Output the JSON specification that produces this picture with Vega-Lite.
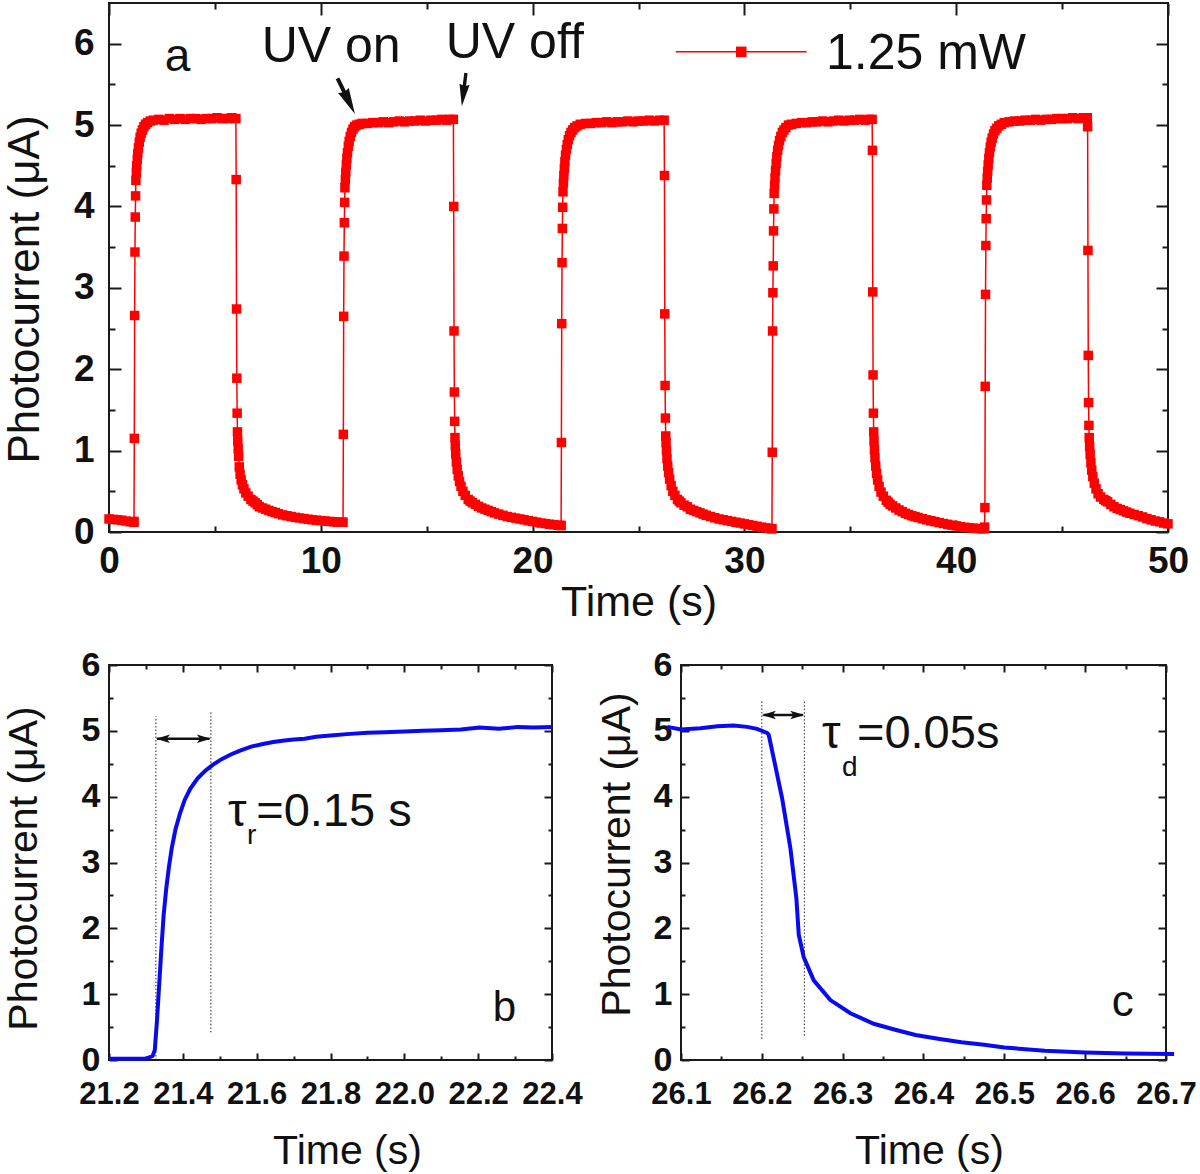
{
  "$schema": "https://vega.github.io/schema/vega-lite/v6.json",
  "background": "white",
  "padding": {"left": 2, "top": 1, "right": 0, "bottom": 0},
  "config": {
    "view": {"stroke": "#1a1a1a", "strokeWidth": 2},
    "font": "Liberation Sans",
    "axis": {"domain": false, "grid": false, "tickColor": "#1a1a1a", "tickWidth": 2, "labelColor": "#111", "titleColor": "#111", "labelFont": "Liberation Sans", "titleFont": "Liberation Sans", "labelFontWeight": "bold", "titleFontWeight": "normal", "labelFlush": false, "labelOverlap": false}
  },
  "datasets": {
    "a": [
      {"t":0,"i":0.16},{"t":0.2,"i":0.155},{"t":0.4,"i":0.15},{"t":0.6,"i":0.145},{"t":0.8,"i":0.135},{"t":1.0,"i":0.125},{"t":1.17,"i":0.12},
      {"t":1.18,"i":0.13},{"t":1.195,"i":1.15},{"t":1.21,"i":2.66},{"t":1.225,"i":3.44},{"t":1.24,"i":3.87},{"t":1.255,"i":4.13},{"t":1.27,"i":4.32},
      {"t":1.29,"i":4.42},{"t":1.31,"i":4.5},{"t":1.335,"i":4.58},{"t":1.36,"i":4.65},{"t":1.39,"i":4.72},{"t":1.43,"i":4.79},{"t":1.47,"i":4.85},{"t":1.52,"i":4.9},{"t":1.58,"i":4.94},{"t":1.65,"i":4.98},{"t":1.73,"i":5.01},{"t":1.82,"i":5.03},{"t":1.95,"i":5.05},{"t":2.1,"i":5.06},
      {"t":2.35,"i":5.07},{"t":2.6,"i":5.06},{"t":2.85,"i":5.08},{"t":3.1,"i":5.07},{"t":3.35,"i":5.08},{"t":3.6,"i":5.07},{"t":3.85,"i":5.08},{"t":4.1,"i":5.08},{"t":4.35,"i":5.07},{"t":4.6,"i":5.08},{"t":4.85,"i":5.08},{"t":5.1,"i":5.09},{"t":5.35,"i":5.08},{"t":5.6,"i":5.08},{"t":5.8,"i":5.09},{"t":5.99,"i":5.08},
      {"t":6.005,"i":4.33},{"t":6.02,"i":2.74},{"t":6.035,"i":1.89},{"t":6.05,"i":1.46},{"t":6.065,"i":1.23},
      {"t":6.08,"i":1.12},{"t":6.1,"i":1.02},{"t":6.12,"i":0.93},{"t":6.15,"i":0.8},{"t":6.19,"i":0.71},{"t":6.24,"i":0.64},{"t":6.3,"i":0.58},{"t":6.37,"i":0.53},{"t":6.46,"i":0.48},{"t":6.57,"i":0.44},{"t":6.7,"i":0.4},{"t":6.8,"i":0.38},{"t":6.9,"i":0.36},{"t":7.0,"i":0.335},{"t":7.1,"i":0.31},{"t":7.25,"i":0.295},{"t":7.4,"i":0.28},{"t":7.55,"i":0.265},{"t":7.7,"i":0.25},{"t":7.85,"i":0.24},{"t":8.0,"i":0.225},{"t":8.2,"i":0.21},{"t":8.4,"i":0.2},{"t":8.6,"i":0.19},{"t":8.8,"i":0.18},{"t":9.0,"i":0.172},{"t":9.2,"i":0.165},{"t":9.4,"i":0.157},{"t":9.6,"i":0.15},{"t":9.8,"i":0.145},{"t":10.0,"i":0.14},{"t":10.2,"i":0.135},{"t":10.4,"i":0.13},{"t":10.6,"i":0.125},{"t":10.8,"i":0.122},{"t":11.0,"i":0.12},
      {"t":11.05,"i":0.12},{"t":11.065,"i":1.2},{"t":11.08,"i":2.65},{"t":11.095,"i":3.39},{"t":11.11,"i":3.8},{"t":11.125,"i":4.05},{"t":11.14,"i":4.23},
      {"t":11.16,"i":4.33},{"t":11.18,"i":4.42},{"t":11.205,"i":4.51},{"t":11.23,"i":4.59},{"t":11.26,"i":4.66},{"t":11.3,"i":4.74},{"t":11.34,"i":4.8},{"t":11.39,"i":4.86},{"t":11.45,"i":4.91},{"t":11.52,"i":4.95},{"t":11.6,"i":4.98},{"t":11.7,"i":5.0},{"t":11.82,"i":5.01},{"t":11.95,"i":5.02},
      {"t":12.2,"i":5.02},{"t":12.45,"i":5.03},{"t":12.7,"i":5.03},{"t":12.95,"i":5.04},{"t":13.2,"i":5.03},{"t":13.45,"i":5.04},{"t":13.7,"i":5.05},{"t":13.95,"i":5.04},{"t":14.2,"i":5.05},{"t":14.45,"i":5.05},{"t":14.7,"i":5.06},{"t":14.95,"i":5.05},{"t":15.2,"i":5.06},{"t":15.45,"i":5.06},{"t":15.7,"i":5.07},{"t":15.95,"i":5.06},{"t":16.1,"i":5.07},{"t":16.26,"i":5.07},
      {"t":16.275,"i":4.0},{"t":16.29,"i":2.47},{"t":16.305,"i":1.72},{"t":16.32,"i":1.36},{"t":16.335,"i":1.16},
      {"t":16.35,"i":1.06},{"t":16.37,"i":0.96},{"t":16.4,"i":0.86},{"t":16.44,"i":0.77},{"t":16.49,"i":0.69},{"t":16.55,"i":0.62},{"t":16.62,"i":0.56},{"t":16.71,"i":0.5},{"t":16.82,"i":0.45},{"t":16.96,"i":0.4},{"t":17.05,"i":0.38},{"t":17.15,"i":0.36},{"t":17.3,"i":0.34},{"t":17.45,"i":0.315},{"t":17.6,"i":0.295},{"t":17.75,"i":0.28},{"t":17.9,"i":0.265},{"t":18.05,"i":0.25},{"t":18.2,"i":0.235},{"t":18.4,"i":0.22},{"t":18.6,"i":0.205},{"t":18.8,"i":0.19},{"t":19.0,"i":0.18},{"t":19.2,"i":0.17},{"t":19.4,"i":0.16},{"t":19.6,"i":0.15},{"t":19.8,"i":0.14},{"t":20.0,"i":0.13},{"t":20.2,"i":0.12},{"t":20.4,"i":0.11},{"t":20.6,"i":0.103},{"t":20.8,"i":0.096},{"t":21.0,"i":0.09},{"t":21.2,"i":0.083},{"t":21.33,"i":0.08},
      {"t":21.345,"i":0.08},{"t":21.36,"i":1.1},{"t":21.375,"i":2.56},{"t":21.39,"i":3.31},{"t":21.405,"i":3.73},{"t":21.42,"i":3.99},{"t":21.435,"i":4.18},
      {"t":21.455,"i":4.29},{"t":21.475,"i":4.38},{"t":21.5,"i":4.47},{"t":21.525,"i":4.55},{"t":21.555,"i":4.63},{"t":21.595,"i":4.7},{"t":21.635,"i":4.76},{"t":21.685,"i":4.82},{"t":21.745,"i":4.87},{"t":21.815,"i":4.91},{"t":21.895,"i":4.94},{"t":21.985,"i":4.97},{"t":22.1,"i":4.99},{"t":22.25,"i":5.01},
      {"t":22.5,"i":5.02},{"t":22.75,"i":5.02},{"t":23.0,"i":5.03},{"t":23.25,"i":5.03},{"t":23.5,"i":5.04},{"t":23.75,"i":5.03},{"t":24.0,"i":5.04},{"t":24.25,"i":5.04},{"t":24.5,"i":5.05},{"t":24.75,"i":5.04},{"t":25.0,"i":5.05},{"t":25.25,"i":5.05},{"t":25.5,"i":5.06},{"t":25.75,"i":5.05},{"t":26.0,"i":5.06},{"t":26.21,"i":5.06},
      {"t":26.225,"i":4.38},{"t":26.24,"i":2.68},{"t":26.255,"i":1.8},{"t":26.27,"i":1.4},{"t":26.285,"i":1.18},
      {"t":26.3,"i":1.1},{"t":26.32,"i":1.0},{"t":26.345,"i":0.9},{"t":26.38,"i":0.81},{"t":26.42,"i":0.73},{"t":26.47,"i":0.65},{"t":26.54,"i":0.57},{"t":26.62,"i":0.5},{"t":26.72,"i":0.45},{"t":26.84,"i":0.4},{"t":26.92,"i":0.38},{"t":27.0,"i":0.36},{"t":27.15,"i":0.33},{"t":27.3,"i":0.31},{"t":27.45,"i":0.28},{"t":27.6,"i":0.265},{"t":27.75,"i":0.25},{"t":27.9,"i":0.235},{"t":28.05,"i":0.22},{"t":28.2,"i":0.205},{"t":28.4,"i":0.19},{"t":28.6,"i":0.175},{"t":28.8,"i":0.16},{"t":29.0,"i":0.15},{"t":29.2,"i":0.14},{"t":29.4,"i":0.13},{"t":29.6,"i":0.12},{"t":29.8,"i":0.11},{"t":30.0,"i":0.1},{"t":30.2,"i":0.09},{"t":30.4,"i":0.08},{"t":30.6,"i":0.07},{"t":30.8,"i":0.06},{"t":31.0,"i":0.05},{"t":31.15,"i":0.045},{"t":31.28,"i":0.04},
      {"t":31.3,"i":0.04},{"t":31.315,"i":0.98},{"t":31.33,"i":2.47},{"t":31.345,"i":2.94},{"t":31.36,"i":3.27},{"t":31.375,"i":3.7},{"t":31.39,"i":3.97},{"t":31.405,"i":4.16},
      {"t":31.425,"i":4.26},{"t":31.445,"i":4.35},{"t":31.47,"i":4.44},{"t":31.5,"i":4.53},{"t":31.53,"i":4.61},{"t":31.57,"i":4.69},{"t":31.61,"i":4.75},{"t":31.66,"i":4.81},{"t":31.72,"i":4.86},{"t":31.79,"i":4.91},{"t":31.87,"i":4.94},{"t":31.96,"i":4.97},{"t":32.08,"i":5.0},{"t":32.22,"i":5.01},
      {"t":32.45,"i":5.02},{"t":32.7,"i":5.03},{"t":32.95,"i":5.03},{"t":33.2,"i":5.04},{"t":33.45,"i":5.04},{"t":33.7,"i":5.05},{"t":33.95,"i":5.04},{"t":34.2,"i":5.05},{"t":34.45,"i":5.06},{"t":34.7,"i":5.05},{"t":34.95,"i":5.06},{"t":35.2,"i":5.06},{"t":35.45,"i":5.07},{"t":35.7,"i":5.06},{"t":35.9,"i":5.07},{"t":36.03,"i":5.07},
      {"t":36.045,"i":4.69},{"t":36.06,"i":2.95},{"t":36.075,"i":1.93},{"t":36.09,"i":1.46},{"t":36.105,"i":1.23},
      {"t":36.12,"i":1.12},{"t":36.14,"i":1.01},{"t":36.165,"i":0.91},{"t":36.2,"i":0.81},{"t":36.24,"i":0.72},{"t":36.29,"i":0.64},{"t":36.36,"i":0.56},{"t":36.45,"i":0.49},{"t":36.56,"i":0.44},{"t":36.7,"i":0.39},{"t":36.79,"i":0.365},{"t":36.88,"i":0.34},{"t":37.0,"i":0.32},{"t":37.15,"i":0.295},{"t":37.3,"i":0.27},{"t":37.45,"i":0.25},{"t":37.6,"i":0.23},{"t":37.75,"i":0.215},{"t":37.9,"i":0.2},{"t":38.05,"i":0.19},{"t":38.2,"i":0.178},{"t":38.4,"i":0.163},{"t":38.6,"i":0.15},{"t":38.8,"i":0.138},{"t":39.0,"i":0.127},{"t":39.2,"i":0.115},{"t":39.4,"i":0.104},{"t":39.6,"i":0.094},{"t":39.8,"i":0.084},{"t":40.0,"i":0.075},{"t":40.2,"i":0.066},{"t":40.4,"i":0.058},{"t":40.6,"i":0.052},{"t":40.8,"i":0.047},{"t":41.0,"i":0.043},{"t":41.2,"i":0.04},{"t":41.32,"i":0.04},
      {"t":41.34,"i":0.06},{"t":41.355,"i":0.3},{"t":41.37,"i":1.79},{"t":41.385,"i":2.92},{"t":41.4,"i":3.52},{"t":41.415,"i":3.85},{"t":41.43,"i":4.08},{"t":41.445,"i":4.26},
      {"t":41.465,"i":4.35},{"t":41.485,"i":4.43},{"t":41.51,"i":4.51},{"t":41.54,"i":4.59},{"t":41.57,"i":4.66},{"t":41.61,"i":4.73},{"t":41.65,"i":4.79},{"t":41.7,"i":4.84},{"t":41.76,"i":4.89},{"t":41.83,"i":4.93},{"t":41.91,"i":4.96},{"t":42.01,"i":4.99},{"t":42.13,"i":5.01},{"t":42.27,"i":5.03},
      {"t":42.5,"i":5.04},{"t":42.75,"i":5.05},{"t":43.0,"i":5.05},{"t":43.25,"i":5.06},{"t":43.5,"i":5.06},{"t":43.75,"i":5.07},{"t":44.0,"i":5.06},{"t":44.25,"i":5.07},{"t":44.5,"i":5.07},{"t":44.75,"i":5.08},{"t":45.0,"i":5.08},{"t":45.25,"i":5.08},{"t":45.5,"i":5.09},{"t":45.75,"i":5.08},{"t":46.0,"i":5.09},{"t":46.19,"i":5.09},
      {"t":46.205,"i":4.98},{"t":46.22,"i":3.46},{"t":46.235,"i":2.17},{"t":46.25,"i":1.59},{"t":46.265,"i":1.31},
      {"t":46.28,"i":1.16},{"t":46.3,"i":1.05},{"t":46.325,"i":0.95},{"t":46.36,"i":0.85},{"t":46.4,"i":0.76},{"t":46.45,"i":0.68},{"t":46.52,"i":0.6},{"t":46.6,"i":0.53},{"t":46.7,"i":0.47},{"t":46.82,"i":0.43},{"t":46.97,"i":0.4},{"t":47.06,"i":0.385},{"t":47.15,"i":0.37},{"t":47.3,"i":0.34},{"t":47.45,"i":0.31},{"t":47.6,"i":0.29},{"t":47.75,"i":0.275},{"t":47.9,"i":0.26},{"t":48.05,"i":0.245},{"t":48.2,"i":0.23},{"t":48.4,"i":0.215},{"t":48.6,"i":0.2},{"t":48.8,"i":0.185},{"t":49.0,"i":0.165},{"t":49.2,"i":0.15},{"t":49.4,"i":0.135},{"t":49.6,"i":0.125},{"t":49.8,"i":0.11},{"t":50.0,"i":0.1}
    ],
    "b": [
      {"t":21.2,"i":0.02},{"t":21.25,"i":0.02},{"t":21.3,"i":0.02},{"t":21.318,"i":0.06},{"t":21.324,"i":0.15},{"t":21.33,"i":0.6},{"t":21.336,"i":1.15},{"t":21.342,"i":1.7},{"t":21.348,"i":2.2},{"t":21.355,"i":2.6},{"t":21.362,"i":2.92},{"t":21.37,"i":3.22},{"t":21.38,"i":3.5},{"t":21.392,"i":3.74},{"t":21.405,"i":3.95},{"t":21.42,"i":4.12},{"t":21.44,"i":4.28},{"t":21.46,"i":4.39},{"t":21.48,"i":4.48},{"t":21.505,"i":4.57},{"t":21.53,"i":4.64},{"t":21.555,"i":4.7},{"t":21.585,"i":4.76},{"t":21.617,"i":4.8},{"t":21.645,"i":4.83},{"t":21.67,"i":4.85},{"t":21.7,"i":4.87},{"t":21.73,"i":4.88},{"t":21.761,"i":4.91},{"t":21.8,"i":4.93},{"t":21.844,"i":4.95},{"t":21.9,"i":4.97},{"t":21.947,"i":4.98},{"t":22.0,"i":4.99},{"t":22.05,"i":5.0},{"t":22.1,"i":5.01},{"t":22.153,"i":5.02},{"t":22.204,"i":5.05},{"t":22.256,"i":5.03},{"t":22.307,"i":5.06},{"t":22.35,"i":5.05},{"t":22.4,"i":5.06}
    ],
    "c": [
      {"t":26.083,"i":5.06},{"t":26.1,"i":5.02},{"t":26.124,"i":5.04},{"t":26.145,"i":5.07},{"t":26.165,"i":5.08},{"t":26.182,"i":5.06},{"t":26.194,"i":5.03},{"t":26.2064,"i":4.97},{"t":26.2085,"i":4.94},{"t":26.217,"i":4.45},{"t":26.225,"i":3.98},{"t":26.2353,"i":3.22},{"t":26.2427,"i":2.46},{"t":26.2457,"i":1.9},{"t":26.2519,"i":1.56},{"t":26.2642,"i":1.21},{"t":26.2848,"i":0.91},{"t":26.3096,"i":0.71},{"t":26.3385,"i":0.55},{"t":26.365,"i":0.46},{"t":26.39,"i":0.38},{"t":26.42,"i":0.32},{"t":26.447,"i":0.27},{"t":26.475,"i":0.23},{"t":26.5,"i":0.19},{"t":26.55,"i":0.14},{"t":26.6,"i":0.115},{"t":26.65,"i":0.1},{"t":26.71,"i":0.09}
    ]
  },
  "spacing": 22,
  "vconcat": [
    {
      "width": 1059,
      "height": 529,
      "layer": [
        {
          "data": {"name": "a"},
          "mark": {"type": "line", "color": "#ff0000", "strokeWidth": 1.5},
          "encoding": {
            "x": {"field": "t", "type": "quantitative", "scale": {"domain": [0, 50], "nice": false, "zero": false},
              "axis": {"orient": "bottom", "values": [0,5,10,15,20,25,30,35,40,45,50], "tickSize": {"condition": {"test": "datum.value % 10 === 0", "value": -12}, "value": -6}, "labelExpr": "datum.value % 10 === 0 ? datum.label : ''", "labelFontSize": 37, "labelPadding": 23, "title": "Time (s)", "titleFontSize": 43, "titlePadding": -4}},
            "y": {"field": "i", "type": "quantitative", "scale": {"domain": [0, 6.5], "nice": false, "zero": false},
              "axis": {"orient": "left", "values": [0,0.5,1,1.5,2,2.5,3,3.5,4,4.5,5,5.5,6], "tickSize": {"condition": {"test": "datum.value % 1 === 0", "value": -12}, "value": -6}, "labelExpr": "datum.value % 1 === 0 ? format(datum.value, 'd') : ''", "labelFontSize": 37, "labelPadding": 27, "title": "Photocurrent (μA)", "titleFontSize": 44, "titlePadding": 26, "titleY": 286}}
          }
        },
        {
          "data": {"name": "a"},
          "mark": {"type": "point", "shape": "square", "filled": true, "color": "#ff0000", "size": 90, "opacity": 1},
          "encoding": {
            "x": {"field": "t", "type": "quantitative", "scale": {"domain": [0, 50], "nice": false, "zero": false},
              "axis": {"orient": "top", "values": [0,5,10,15,20,25,30,35,40,45,50], "tickSize": {"condition": {"test": "datum.value % 10 === 0", "value": -12}, "value": -6}, "labels": false, "title": null}},
            "y": {"field": "i", "type": "quantitative", "scale": {"domain": [0, 6.5], "nice": false, "zero": false},
              "axis": {"orient": "right", "values": [0,0.5,1,1.5,2,2.5,3,3.5,4,4.5,5,5.5,6], "tickSize": {"condition": {"test": "datum.value % 1 === 0", "value": -12}, "value": -6}, "labels": false, "title": null}}
          }
        },
        {
          "data": {"values": [{"t1": 26.76, "t2": 32.94, "i": 5.9}]},
          "mark": {"type": "rule", "color": "#ff0000", "strokeWidth": 1.5},
          "encoding": {
            "x": {"field": "t1", "type": "quantitative", "scale": {"domain": [0, 50], "nice": false, "zero": false}, "axis": null},
            "x2": {"field": "t2"},
            "y": {"field": "i", "type": "quantitative", "scale": {"domain": [0, 6.5], "nice": false, "zero": false}, "axis": null}
          }
        },
        {
          "data": {"values": [{"t": 29.85, "i": 5.9}]},
          "mark": {"type": "point", "shape": "square", "filled": true, "color": "#ff0000", "size": 110, "opacity": 1},
          "encoding": {
            "x": {"field": "t", "type": "quantitative", "scale": {"domain": [0, 50], "nice": false, "zero": false}, "axis": null},
            "y": {"field": "i", "type": "quantitative", "scale": {"domain": [0, 6.5], "nice": false, "zero": false}, "axis": null}
          }
        },
        {
          "data": {"values": [{"t": 7.21, "i": 5.77, "txt": "UV on"}, {"t": 15.9, "i": 5.83, "txt": "UV off"}, {"t": 33.85, "i": 5.69, "txt": "1.25 mW"}]},
          "mark": {"type": "text", "align": "left", "baseline": "alphabetic", "fontSize": 50, "font": "Liberation Sans", "color": "#111"},
          "encoding": {
            "x": {"field": "t", "type": "quantitative", "scale": {"domain": [0, 50], "nice": false, "zero": false}, "axis": null},
            "y": {"field": "i", "type": "quantitative", "scale": {"domain": [0, 6.5], "nice": false, "zero": false}, "axis": null},
            "text": {"field": "txt"}
          }
        },
        {
          "data": {"values": [{"t": 2.63, "i": 5.67, "txt": "a"}]},
          "mark": {"type": "text", "align": "left", "baseline": "alphabetic", "fontSize": 46, "font": "Liberation Sans", "color": "#111"},
          "encoding": {
            "x": {"field": "t", "type": "quantitative", "scale": {"domain": [0, 50], "nice": false, "zero": false}, "axis": null},
            "y": {"field": "i", "type": "quantitative", "scale": {"domain": [0, 6.5], "nice": false, "zero": false}, "axis": null},
            "text": {"field": "txt"}
          }
        },
        {
          "data": {"values": [{"t": 11.2, "i": 5.355}]},
          "mark": {"type": "point", "shape": "M-0.1,-1L0.1,-1L0.1,-0.25L0.3,-0.32L0,1L-0.3,-0.32L-0.1,-0.25Z", "filled": true, "color": "#111", "size": 1570, "angle": 334, "opacity": 1},
          "encoding": {
            "x": {"field": "t", "type": "quantitative", "scale": {"domain": [0, 50], "nice": false, "zero": false}, "axis": null},
            "y": {"field": "i", "type": "quantitative", "scale": {"domain": [0, 6.5], "nice": false, "zero": false}, "axis": null}
          }
        },
        {
          "data": {"values": [{"t": 16.755, "i": 5.435}]},
          "mark": {"type": "point", "shape": "M-0.1,-1L0.1,-1L0.1,-0.25L0.3,-0.32L0,1L-0.3,-0.32L-0.1,-0.25Z", "filled": true, "color": "#111", "size": 1130, "angle": 7, "opacity": 1},
          "encoding": {
            "x": {"field": "t", "type": "quantitative", "scale": {"domain": [0, 50], "nice": false, "zero": false}, "axis": null},
            "y": {"field": "i", "type": "quantitative", "scale": {"domain": [0, 6.5], "nice": false, "zero": false}, "axis": null}
          }
        }
      ],
      "resolve": {"axis": {"x": "independent", "y": "independent"}}
    },
    {
      "spacing": 11,
      "hconcat": [
        {
          "width": 443,
          "height": 395,
          "layer": [
            {
              "data": {"name": "b"},
              "mark": {"type": "line", "color": "#0a0af0", "strokeWidth": 4},
              "encoding": {
                "x": {"field": "t", "type": "quantitative", "scale": {"domain": [21.2, 22.4], "nice": false, "zero": false},
                  "axis": {"orient": "bottom", "values": [21.2,21.3,21.4,21.5,21.6,21.7,21.8,21.9,22.0,22.1,22.2,22.3,22.4], "tickSize": {"condition": {"test": "round(datum.value*10) % 2 === 0", "value": -7}, "value": -4}, "labelExpr": "round(datum.value*10) % 2 === 0 ? format(datum.value, '.1f') : ''", "labelFontSize": 31, "labelPadding": 26.5, "title": "Time (s)", "titleFontSize": 41, "titlePadding": 19, "titleX": 238}},
                "y": {"field": "i", "type": "quantitative", "scale": {"domain": [0, 6], "nice": false, "zero": false},
                  "axis": {"orient": "left", "values": [0,0.5,1,1.5,2,2.5,3,3.5,4,4.5,5,5.5,6], "tickSize": {"condition": {"test": "datum.value % 1 === 0", "value": -8}, "value": -4}, "labelExpr": "datum.value % 1 === 0 ? format(datum.value, 'd') : ''", "labelFontSize": 34, "labelPadding": 17, "title": "Photocurrent (μA)", "titleFontSize": 41, "titlePadding": 36, "titleY": 203}}
              }
            },
            {
              "data": {"values": [{"t": 21.327, "i1": 0, "i2": 5.22}, {"t": 21.476, "i1": 0.42, "i2": 5.3}]},
              "mark": {"type": "rule", "color": "#222", "strokeWidth": 1, "strokeDash": [1.5, 2]},
              "encoding": {
                "x": {"field": "t", "type": "quantitative", "scale": {"domain": [21.2, 22.4], "nice": false, "zero": false},
                  "axis": {"orient": "top", "values": [21.2,21.3,21.4,21.5,21.6,21.7,21.8,21.9,22.0,22.1,22.2,22.3,22.4], "tickSize": {"condition": {"test": "round(datum.value*10) % 2 === 0", "value": -7}, "value": -4}, "labels": false, "title": null}},
                "y": {"field": "i1", "type": "quantitative", "scale": {"domain": [0, 6], "nice": false, "zero": false},
                  "axis": {"orient": "right", "values": [0,0.5,1,1.5,2,2.5,3,3.5,4,4.5,5,5.5,6], "tickSize": {"condition": {"test": "datum.value % 1 === 0", "value": -8}, "value": -4}, "labels": false, "title": null}},
                "y2": {"field": "i2"}
              }
            },
            {
              "data": {"values": [{"t1": 21.33, "t2": 21.472, "i": 4.88}]},
              "mark": {"type": "rule", "color": "#111", "strokeWidth": 2.5},
              "encoding": {
                "x": {"field": "t1", "type": "quantitative", "scale": {"domain": [21.2, 22.4], "nice": false, "zero": false}, "axis": null},
                "x2": {"field": "t2"},
                "y": {"field": "i", "type": "quantitative", "scale": {"domain": [0, 6], "nice": false, "zero": false}, "axis": null}
              }
            },
            {
              "data": {"values": [{"t": 21.346, "i": 4.88}]},
              "mark": {"type": "point", "shape": "M-1,0L1,-0.6L0.55,0L1,0.6Z", "filled": true, "color": "#111", "size": 196, "opacity": 1},
              "encoding": {
                "x": {"field": "t", "type": "quantitative", "scale": {"domain": [21.2, 22.4], "nice": false, "zero": false}, "axis": null},
                "y": {"field": "i", "type": "quantitative", "scale": {"domain": [0, 6], "nice": false, "zero": false}, "axis": null}
              }
            },
            {
              "data": {"values": [{"t": 21.457, "i": 4.88}]},
              "mark": {"type": "point", "shape": "M1,0L-1,-0.6L-0.55,0L-1,0.6Z", "filled": true, "color": "#111", "size": 196, "opacity": 1},
              "encoding": {
                "x": {"field": "t", "type": "quantitative", "scale": {"domain": [21.2, 22.4], "nice": false, "zero": false}, "axis": null},
                "y": {"field": "i", "type": "quantitative", "scale": {"domain": [0, 6], "nice": false, "zero": false}, "axis": null}
              }
            },
            {
              "data": {"values": [{"t": 21.5226, "i": 3.547, "txt": "τ"}, {"t": 21.5987, "i": 3.547, "txt": "=0.15 s"}]},
              "mark": {"type": "text", "align": "left", "baseline": "alphabetic", "fontSize": 47, "font": "Liberation Sans", "color": "#111"},
              "encoding": {
                "x": {"field": "t", "type": "quantitative", "scale": {"domain": [21.2, 22.4], "nice": false, "zero": false}, "axis": null},
                "y": {"field": "i", "type": "quantitative", "scale": {"domain": [0, 6], "nice": false, "zero": false}, "axis": null},
                "text": {"field": "txt"}
              }
            },
            {
              "data": {"values": [{"t": 21.5737, "i": 3.282, "txt": "r"}]},
              "mark": {"type": "text", "align": "left", "baseline": "alphabetic", "fontSize": 28, "font": "Liberation Sans", "color": "#111"},
              "encoding": {
                "x": {"field": "t", "type": "quantitative", "scale": {"domain": [21.2, 22.4], "nice": false, "zero": false}, "axis": null},
                "y": {"field": "i", "type": "quantitative", "scale": {"domain": [0, 6], "nice": false, "zero": false}, "axis": null},
                "text": {"field": "txt"}
              }
            },
            {
              "data": {"values": [{"t": 22.2398, "i": 0.585, "txt": "b"}]},
              "mark": {"type": "text", "align": "left", "baseline": "alphabetic", "fontSize": 42, "font": "Liberation Sans", "color": "#111"},
              "encoding": {
                "x": {"field": "t", "type": "quantitative", "scale": {"domain": [21.2, 22.4], "nice": false, "zero": false}, "axis": null},
                "y": {"field": "i", "type": "quantitative", "scale": {"domain": [0, 6], "nice": false, "zero": false}, "axis": null},
                "text": {"field": "txt"}
              }
            }
          ],
          "resolve": {"axis": {"x": "independent", "y": "independent"}}
        },
        {
          "width": 485,
          "height": 395,
          "layer": [
            {
              "data": {"name": "c"},
              "mark": {"type": "line", "color": "#0a0af0", "strokeWidth": 4},
              "encoding": {
                "x": {"field": "t", "type": "quantitative", "scale": {"domain": [26.1, 26.7], "nice": false, "zero": false},
                  "axis": {"orient": "bottom", "values": [26.1,26.15,26.2,26.25,26.3,26.35,26.4,26.45,26.5,26.55,26.6,26.65,26.7], "tickSize": {"condition": {"test": "round(datum.value*100) % 10 === 0", "value": -7}, "value": -4}, "labelExpr": "round(datum.value*100) % 10 === 0 ? format(datum.value, '.1f') : ''", "labelFontSize": 31, "labelPadding": 26.5, "title": "Time (s)", "titleFontSize": 41, "titlePadding": 19, "titleX": 248}},
                "y": {"field": "i", "type": "quantitative", "scale": {"domain": [0, 6], "nice": false, "zero": false},
                  "axis": {"orient": "left", "values": [0,0.5,1,1.5,2,2.5,3,3.5,4,4.5,5,5.5,6], "tickSize": {"condition": {"test": "datum.value % 1 === 0", "value": -8}, "value": -4}, "labelExpr": "datum.value % 1 === 0 ? format(datum.value, 'd') : ''", "labelFontSize": 34, "labelPadding": 17, "title": "Photocurrent (μA)", "titleFontSize": 41, "titlePadding": 15, "titleY": 189}}
              }
            },
            {
              "data": {"values": [{"t": 26.2, "i1": 0.32, "i2": 5.45}, {"t": 26.2526, "i1": 0.37, "i2": 5.45}]},
              "mark": {"type": "rule", "color": "#222", "strokeWidth": 1, "strokeDash": [1.5, 2]},
              "encoding": {
                "x": {"field": "t", "type": "quantitative", "scale": {"domain": [26.1, 26.7], "nice": false, "zero": false},
                  "axis": {"orient": "top", "values": [26.1,26.15,26.2,26.25,26.3,26.35,26.4,26.45,26.5,26.55,26.6,26.65,26.7], "tickSize": {"condition": {"test": "round(datum.value*100) % 10 === 0", "value": -7}, "value": -4}, "labels": false, "title": null}},
                "y": {"field": "i1", "type": "quantitative", "scale": {"domain": [0, 6], "nice": false, "zero": false},
                  "axis": {"orient": "right", "values": [0,0.5,1,1.5,2,2.5,3,3.5,4,4.5,5,5.5,6], "tickSize": {"condition": {"test": "datum.value % 1 === 0", "value": -8}, "value": -4}, "labels": false, "title": null}},
                "y2": {"field": "i2"}
              }
            },
            {
              "data": {"values": [{"t1": 26.202, "t2": 26.2506, "i": 5.24}]},
              "mark": {"type": "rule", "color": "#111", "strokeWidth": 2.5},
              "encoding": {
                "x": {"field": "t1", "type": "quantitative", "scale": {"domain": [26.1, 26.7], "nice": false, "zero": false}, "axis": null},
                "x2": {"field": "t2"},
                "y": {"field": "i", "type": "quantitative", "scale": {"domain": [0, 6], "nice": false, "zero": false}, "axis": null}
              }
            },
            {
              "data": {"values": [{"t": 26.2087, "i": 5.24}]},
              "mark": {"type": "point", "shape": "M-1,0L1,-0.6L0.55,0L1,0.6Z", "filled": true, "color": "#111", "size": 196, "opacity": 1},
              "encoding": {
                "x": {"field": "t", "type": "quantitative", "scale": {"domain": [26.1, 26.7], "nice": false, "zero": false}, "axis": null},
                "y": {"field": "i", "type": "quantitative", "scale": {"domain": [0, 6], "nice": false, "zero": false}, "axis": null}
              }
            },
            {
              "data": {"values": [{"t": 26.2439, "i": 5.24}]},
              "mark": {"type": "point", "shape": "M1,0L-1,-0.6L-0.55,0L-1,0.6Z", "filled": true, "color": "#111", "size": 196, "opacity": 1},
              "encoding": {
                "x": {"field": "t", "type": "quantitative", "scale": {"domain": [26.1, 26.7], "nice": false, "zero": false}, "axis": null},
                "y": {"field": "i", "type": "quantitative", "scale": {"domain": [0, 6], "nice": false, "zero": false}, "axis": null}
              }
            },
            {
              "data": {"values": [{"t": 26.2744, "i": 4.738, "txt": "τ"}, {"t": 26.3177, "i": 4.738, "txt": "=0.05s"}]},
              "mark": {"type": "text", "align": "left", "baseline": "alphabetic", "fontSize": 47, "font": "Liberation Sans", "color": "#111"},
              "encoding": {
                "x": {"field": "t", "type": "quantitative", "scale": {"domain": [26.1, 26.7], "nice": false, "zero": false}, "axis": null},
                "y": {"field": "i", "type": "quantitative", "scale": {"domain": [0, 6], "nice": false, "zero": false}, "axis": null},
                "text": {"field": "txt"}
              }
            },
            {
              "data": {"values": [{"t": 26.2992, "i": 4.309, "txt": "d"}]},
              "mark": {"type": "text", "align": "left", "baseline": "alphabetic", "fontSize": 28, "font": "Liberation Sans", "color": "#111"},
              "encoding": {
                "x": {"field": "t", "type": "quantitative", "scale": {"domain": [26.1, 26.7], "nice": false, "zero": false}, "axis": null},
                "y": {"field": "i", "type": "quantitative", "scale": {"domain": [0, 6], "nice": false, "zero": false}, "axis": null},
                "text": {"field": "txt"}
              }
            },
            {
              "data": {"values": [{"t": 26.6329, "i": 0.664, "txt": "c"}]},
              "mark": {"type": "text", "align": "left", "baseline": "alphabetic", "fontSize": 44, "font": "Liberation Sans", "color": "#111"},
              "encoding": {
                "x": {"field": "t", "type": "quantitative", "scale": {"domain": [26.1, 26.7], "nice": false, "zero": false}, "axis": null},
                "y": {"field": "i", "type": "quantitative", "scale": {"domain": [0, 6], "nice": false, "zero": false}, "axis": null},
                "text": {"field": "txt"}
              }
            }
          ],
          "resolve": {"axis": {"x": "independent", "y": "independent"}}
        }
      ]
    }
  ]
}
